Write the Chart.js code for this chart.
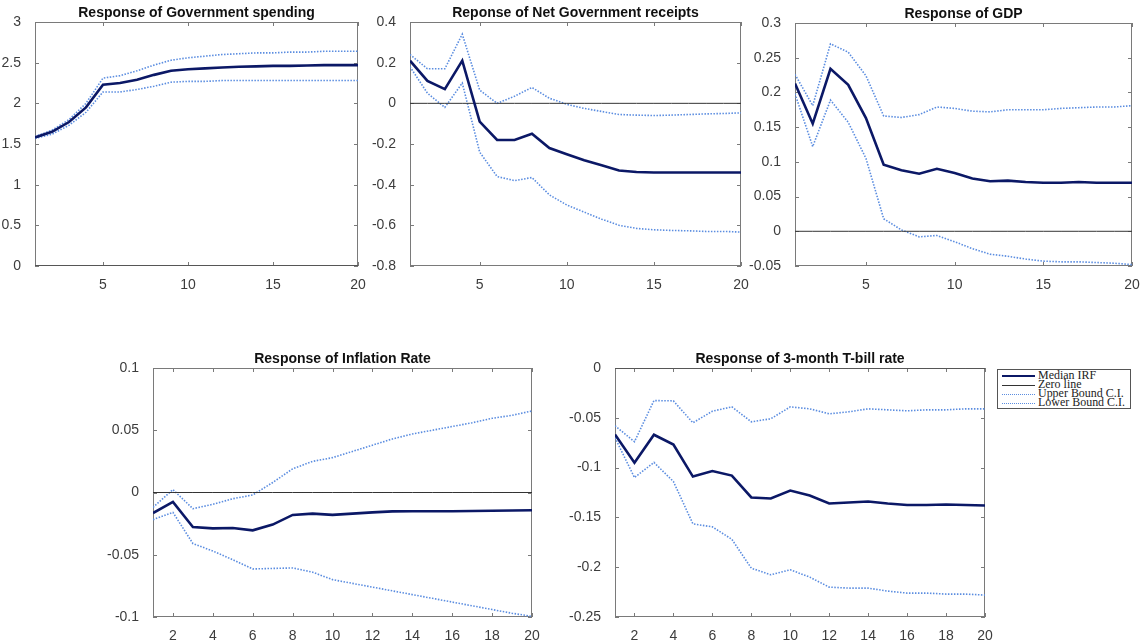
<!DOCTYPE html>
<html>
<head>
<meta charset="utf-8">
<script src="https://cdn.jsdelivr.net/npm/chart.js@4.4.0/dist/chart.umd.min.js"></script>
<style>
  body { margin: 0; background: #fff; width: 1146px; height: 644px; position: relative; overflow: hidden; }
  .panel { position: absolute; }
  #legend {
    position: absolute; left: 997px; top: 369px; width: 134px; height: 40px;
    border: 1px solid #555; box-sizing: border-box; background: #fff;
    font-family: "Liberation Serif", "Times New Roman", serif; font-size: 11.5px; color: #222;
  }
  .row { position: absolute; left: 4px; height: 9.5px; width: 126px; }
  .row .sample { position: absolute; left: 0; width: 33px; top: 5px; }
  .row .label { position: absolute; left: 36px; top: 0; white-space: nowrap; line-height: 9.5px; transform: scaleX(1.04); transform-origin: left center; }
</style>
</head>
<body>
<div id="legend">
  <div class="row" style="top:0.5px"><div class="sample" style="border-top:2.5px solid #0b1866;margin-top:-1px"></div><div class="label">Median IRF</div></div>
  <div class="row" style="top:9.5px"><div class="sample" style="border-top:1px solid #333"></div><div class="label">Zero line</div></div>
  <div class="row" style="top:18.5px"><div class="sample" style="border-top:1.5px dotted #5b8de0"></div><div class="label">Upper Bound C.I.</div></div>
  <div class="row" style="top:27.5px"><div class="sample" style="border-top:1.5px dotted #5b8de0"></div><div class="label">Lower Bound C.I.</div></div>
</div>
<script>
// horizon (quarters)
const steps = [1, 2, 3, 4, 5, 6, 7, 8, 9, 10, 11, 12, 13, 14, 15, 16, 17, 18, 19, 20];
const zeroLine = [0, 0, 0, 0, 0, 0, 0, 0, 0, 0, 0, 0, 0, 0, 0, 0, 0, 0, 0, 0];

const govMedian = [1.58, 1.65, 1.77, 1.95, 2.23, 2.25, 2.29, 2.35, 2.40, 2.42, 2.43, 2.44, 2.45, 2.455, 2.46, 2.46, 2.465, 2.47, 2.47, 2.47];
const govUpper = [1.59, 1.67, 1.80, 2.00, 2.31, 2.34, 2.40, 2.47, 2.53, 2.56, 2.58, 2.60, 2.61, 2.62, 2.62, 2.63, 2.63, 2.64, 2.64, 2.64];
const govLower = [1.57, 1.62, 1.73, 1.89, 2.14, 2.14, 2.17, 2.21, 2.26, 2.27, 2.27, 2.28, 2.28, 2.28, 2.28, 2.28, 2.28, 2.28, 2.28, 2.28];

const recMedian = [0.21, 0.11, 0.07, 0.21, -0.09, -0.18, -0.18, -0.15, -0.22, -0.25, -0.28, -0.305, -0.33, -0.338, -0.34, -0.34, -0.34, -0.34, -0.34, -0.34];
const recUpper = [0.24, 0.17, 0.17, 0.34, 0.065, 0.0, 0.035, 0.078, 0.025, -0.005, -0.025, -0.04, -0.055, -0.058, -0.06, -0.058, -0.055, -0.052, -0.05, -0.047];
const recLower = [0.18, 0.05, -0.02, 0.10, -0.24, -0.36, -0.38, -0.365, -0.45, -0.50, -0.535, -0.57, -0.60, -0.615, -0.622, -0.625, -0.627, -0.63, -0.63, -0.633];

const gdpMedian = [0.213, 0.155, 0.234, 0.211, 0.163, 0.096, 0.088, 0.083, 0.09, 0.084, 0.076, 0.072, 0.073, 0.071, 0.07, 0.07, 0.071, 0.07, 0.07, 0.07];
const gdpUpper = [0.226, 0.181, 0.27, 0.258, 0.224, 0.166, 0.164, 0.168, 0.179, 0.177, 0.173, 0.172, 0.175, 0.175, 0.175, 0.177, 0.178, 0.179, 0.179, 0.181];
const gdpLower = [0.198, 0.122, 0.189, 0.157, 0.105, 0.018, 0.002, -0.008, -0.006, -0.015, -0.025, -0.033, -0.036, -0.04, -0.043, -0.044, -0.044, -0.045, -0.046, -0.048];

const infMedian = [-0.0165, -0.0076, -0.0277, -0.0288, -0.0285, -0.0304, -0.0258, -0.018, -0.017, -0.018, -0.017, -0.016, -0.0152, -0.015, -0.015, -0.015, -0.0148, -0.0146, -0.0145, -0.0143];
const infUpper = [-0.012, 0.0023, -0.013, -0.0095, -0.005, -0.002, 0.008, 0.019, 0.025, 0.028, 0.033, 0.038, 0.043, 0.047, 0.05, 0.053, 0.056, 0.0596, 0.062, 0.0655];
const infLower = [-0.0218, -0.016, -0.041, -0.047, -0.054, -0.0614, -0.061, -0.0606, -0.064, -0.070, -0.073, -0.076, -0.079, -0.082, -0.085, -0.088, -0.091, -0.094, -0.097, -0.0995];

const tbMedian = [-0.0668, -0.0951, -0.067, -0.0768, -0.109, -0.1035, -0.108, -0.13, -0.131, -0.123, -0.128, -0.136, -0.135, -0.134, -0.136, -0.1375, -0.1375, -0.137, -0.1375, -0.138];
const tbUpper = [-0.058, -0.074, -0.0327, -0.033, -0.055, -0.0434, -0.039, -0.054, -0.051, -0.039, -0.041, -0.046, -0.044, -0.041, -0.042, -0.043, -0.042, -0.042, -0.041, -0.041];
const tbLower = [-0.07, -0.11, -0.0948, -0.114, -0.1565, -0.1595, -0.172, -0.201, -0.2076, -0.2026, -0.21, -0.22, -0.221, -0.221, -0.224, -0.226, -0.226, -0.227, -0.227, -0.228];

const xTicksWide = [5, 10, 15, 20];
const xTicksNarrow = [2, 4, 6, 8, 10, 12, 14, 16, 18, 20];

const MEDIAN_COLOR = "#0b1866";
const BAND_COLOR = "#5b8de0";
const AXIS_COLOR = "#7a7a7a";
const TICK_FONT = { family: "'Liberation Sans', Arial, sans-serif", size: 14 };
const TITLE_H = 22;
const XAXIS_H = 30;
const RIGHT_PAD = 14;

// matlab style box with inward ticks
const boxPlugin = {
    id: "matlabBox",
    beforeDatasetsDraw(chart) {
        const { ctx, chartArea, scales } = chart;
        const { left, top, right, bottom } = chartArea;
        ctx.save();
        ctx.strokeStyle = AXIS_COLOR;
        ctx.lineWidth = 1;
        ctx.strokeRect(Math.round(left) + 0.5, Math.round(top) + 0.5, Math.round(right - left) - 1, Math.round(bottom - top) - 1);
        ctx.beginPath();
        scales.x.ticks.forEach((t) => {
            const px = Math.round(scales.x.getPixelForValue(t.value)) + 0.5;
            ctx.moveTo(px, bottom); ctx.lineTo(px, bottom - 4);
            ctx.moveTo(px, top); ctx.lineTo(px, top + 4);
        });
        scales.y.ticks.forEach((t) => {
            const py = Math.round(scales.y.getPixelForValue(t.value)) + 0.5;
            ctx.moveTo(left, py); ctx.lineTo(left + 4, py);
            ctx.moveTo(right, py); ctx.lineTo(right - 4, py);
        });
        ctx.stroke();
        ctx.restore();
    },
};

function toPoints(values) {
    return steps.map((s, i) => ({ x: s, y: values[i] }));
}

function fmt(v) {
    const r = Math.round(v * 1000) / 1000;
    return r === 0 ? "0" : String(r);
}

function makePanel(p) {
    const div = document.createElement("div");
    div.className = "panel";
    const left = p.plotLeft - p.yWidth;
    const top = p.plotTop - TITLE_H;
    div.style.left = left + "px";
    div.style.top = top + "px";
    div.style.width = (p.plotRight + RIGHT_PAD - left) + "px";
    div.style.height = (p.plotBottom + XAXIS_H - top) + "px";
    const canvas = document.createElement("canvas");
    div.appendChild(canvas);
    document.body.appendChild(div);

    return new Chart(canvas, {
        type: "line",
        data: {
            datasets: [
                { label: "Median IRF", data: toPoints(p.median), borderColor: MEDIAN_COLOR, borderWidth: 2.6 },
                { label: "Zero line", data: toPoints(zeroLine), borderColor: "#333", borderWidth: 1 },
                { label: "Upper Bound C.I.", data: toPoints(p.upper), borderColor: BAND_COLOR, borderWidth: 1.6, borderDash: [1.5, 1.5] },
                { label: "Lower Bound C.I.", data: toPoints(p.lower), borderColor: BAND_COLOR, borderWidth: 1.6, borderDash: [1.5, 1.5] },
            ],
        },
        options: {
            responsive: true,
            maintainAspectRatio: false,
            animation: false,
            layout: { padding: { left: 0, right: RIGHT_PAD, top: 0, bottom: 0 } },
            elements: { point: { radius: 0 }, line: { tension: 0 } },
            scales: {
                x: {
                    type: "linear",
                    min: 1,
                    max: 20,
                    grid: { display: false },
                    border: { display: false },
                    afterBuildTicks: (scale) => { scale.ticks = p.xTicks.map((v) => ({ value: v })); },
                    afterFit: (scale) => { scale.height = XAXIS_H; },
                    ticks: {
                        padding: 2.5,
                        maxRotation: 0,
                        color: "#3c3c3c",
                        font: TICK_FONT,
                        callback: (v) => String(v),
                    },
                },
                y: {
                    min: p.yMin,
                    max: p.yMax,
                    grid: { display: false },
                    border: { display: false },
                    afterFit: (scale) => { scale.width = p.yWidth; },
                    ticks: {
                        stepSize: p.yStep,
                        padding: 6,
                        color: "#3c3c3c",
                        font: TICK_FONT,
                        callback: (v) => fmt(v),
                    },
                },
            },
            plugins: {
                legend: { display: false },
                tooltip: { enabled: false },
                title: {
                    display: true,
                    fullSize: false,
                    text: p.title,
                    color: "#111",
                    font: { family: "'Liberation Sans', Arial, sans-serif", size: 14, weight: "bold", lineHeight: 1.2 },
                    padding: { top: 5, bottom: 0.2 },
                },
            },
        },
        plugins: [boxPlugin],
    });
}

const panels = [
    { title: "Response of Government spending", plotLeft: 35, plotRight: 358, plotTop: 22, plotBottom: 266, yWidth: 35,
      yMin: 0, yMax: 3, yStep: 0.5, xTicks: xTicksWide, median: govMedian, upper: govUpper, lower: govLower },
    { title: "Reponse of Net Government receipts", plotLeft: 410, plotRight: 741, plotTop: 22, plotBottom: 266, yWidth: 40,
      yMin: -0.8, yMax: 0.4, yStep: 0.2, xTicks: xTicksWide, median: recMedian, upper: recUpper, lower: recLower },
    { title: "Response of GDP", plotLeft: 795, plotRight: 1132, plotTop: 23, plotBottom: 266, yWidth: 50,
      yMin: -0.05, yMax: 0.3, yStep: 0.05, xTicks: xTicksWide, median: gdpMedian, upper: gdpUpper, lower: gdpLower },
    { title: "Response of Inflation Rate", plotLeft: 153, plotRight: 532, plotTop: 368, plotBottom: 617, yWidth: 53,
      yMin: -0.1, yMax: 0.1, yStep: 0.05, xTicks: xTicksNarrow, median: infMedian, upper: infUpper, lower: infLower },
    { title: "Response of 3-month T-bill rate", plotLeft: 615, plotRight: 985, plotTop: 368, plotBottom: 617, yWidth: 55,
      yMin: -0.25, yMax: 0, yStep: 0.05, xTicks: xTicksNarrow, median: tbMedian, upper: tbUpper, lower: tbLower },
];

panels.forEach(makePanel);
</script>
</body>
</html>
